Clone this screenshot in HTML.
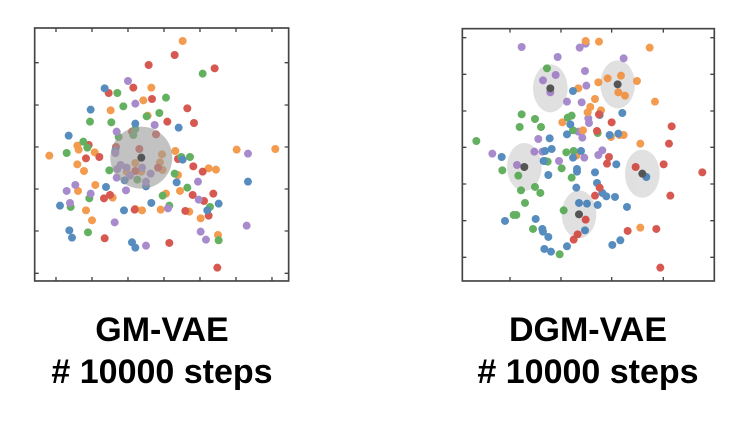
<!DOCTYPE html>
<html><head><style>
html,body{margin:0;padding:0;background:#fff;width:734px;height:422px;overflow:hidden}
.t{position:absolute;font-family:"Liberation Sans",sans-serif;font-weight:bold;font-size:34px;color:#000;text-align:center;width:340px;line-height:42px}
circle{}
</style></head><body>
<svg width="734" height="422" style="position:absolute;left:0;top:0">
<g transform="translate(30,25) scale(0.3333)">
<rect x="14" y="9" width="762" height="759" fill="none" stroke="#444" stroke-width="5"/>
<g stroke="#444" stroke-width="4">
<path d="M78 768v-12M186 768v-12M294 768v-12M402 768v-12M510 768v-12M618 768v-12M726 768v-12M78 9v12M186 9v12M294 9v12M402 9v12M510 9v12M618 9v12M726 9v12"/>
<path d="M14 113h12M14 240h12M14 366h12M14 492h12M14 618h12M14 745h12M776 113h-12M776 240h-12M776 366h-12M776 492h-12M776 618h-12M776 745h-12"/>
</g>
<g opacity="0.85">
<g fill="#f28a30">
<circle cx="458" cy="48" r="12"/><circle cx="364" cy="188" r="12"/><circle cx="340" cy="226" r="12"/><circle cx="242" cy="256" r="12"/><circle cx="353" cy="272" r="12"/><circle cx="142" cy="362" r="12"/><circle cx="146" cy="374" r="12"/><circle cx="194" cy="382" r="12"/><circle cx="142" cy="418" r="12"/><circle cx="162" cy="438" r="12"/><circle cx="58" cy="392" r="12"/><circle cx="436" cy="378" r="12"/><circle cx="396" cy="388" r="12"/><circle cx="390" cy="412" r="12"/><circle cx="398" cy="435" r="12"/><circle cx="316" cy="414" r="12"/><circle cx="334" cy="440" r="12"/><circle cx="444" cy="450" r="12"/><circle cx="196" cy="480" r="12"/><circle cx="144" cy="498" r="12"/><circle cx="248" cy="518" r="12"/><circle cx="168" cy="556" r="12"/><circle cx="186" cy="586" r="12"/><circle cx="316" cy="552" r="12"/><circle cx="336" cy="556" r="12"/><circle cx="392" cy="554" r="12"/><circle cx="408" cy="506" r="12"/><circle cx="450" cy="498" r="12"/><circle cx="478" cy="560" r="12"/><circle cx="512" cy="580" r="12"/><circle cx="536" cy="430" r="12"/><circle cx="558" cy="434" r="12"/><circle cx="620" cy="374" r="12"/><circle cx="736" cy="372" r="12"/><circle cx="564" cy="630" r="12"/><circle cx="290" cy="440" r="12"/>
</g>
<g fill="#d03b32">
<circle cx="434" cy="90" r="12"/><circle cx="356" cy="120" r="12"/><circle cx="554" cy="130" r="12"/><circle cx="310" cy="188" r="12"/><circle cx="236" cy="204" r="12"/><circle cx="366" cy="222" r="12"/><circle cx="472" cy="250" r="12"/><circle cx="412" cy="290" r="12"/><circle cx="492" cy="294" r="12"/><circle cx="378" cy="328" r="12"/><circle cx="306" cy="320" r="12"/><circle cx="258" cy="366" r="12"/><circle cx="176" cy="360" r="12"/><circle cx="168" cy="400" r="12"/><circle cx="208" cy="396" r="12"/><circle cx="328" cy="372" r="12"/><circle cx="444" cy="402" r="12"/><circle cx="384" cy="428" r="12"/><circle cx="316" cy="438" r="12"/><circle cx="490" cy="424" r="12"/><circle cx="518" cy="440" r="12"/><circle cx="488" cy="510" r="12"/><circle cx="522" cy="528" r="12"/><circle cx="550" cy="506" r="12"/><circle cx="536" cy="572" r="12"/><circle cx="466" cy="558" r="12"/><circle cx="314" cy="554" r="12"/><circle cx="222" cy="520" r="12"/><circle cx="240" cy="510" r="12"/><circle cx="224" cy="640" r="12"/><circle cx="418" cy="654" r="12"/><circle cx="562" cy="728" r="12"/>
</g>
<g fill="#4aa346">
<circle cx="518" cy="146" r="12"/><circle cx="262" cy="204" r="12"/><circle cx="408" cy="218" r="12"/><circle cx="280" cy="244" r="12"/><circle cx="350" cy="274" r="12"/><circle cx="388" cy="264" r="12"/><circle cx="180" cy="290" r="12"/><circle cx="244" cy="292" r="12"/><circle cx="316" cy="312" r="12"/><circle cx="266" cy="336" r="12"/><circle cx="310" cy="330" r="12"/><circle cx="160" cy="350" r="12"/><circle cx="110" cy="384" r="12"/><circle cx="172" cy="368" r="12"/><circle cx="238" cy="436" r="12"/><circle cx="322" cy="464" r="12"/><circle cx="434" cy="446" r="12"/><circle cx="454" cy="396" r="12"/><circle cx="480" cy="396" r="12"/><circle cx="472" cy="488" r="12"/><circle cx="398" cy="512" r="12"/><circle cx="418" cy="542" r="12"/><circle cx="540" cy="546" r="12"/><circle cx="566" cy="646" r="12"/><circle cx="178" cy="520" r="12"/><circle cx="122" cy="546" r="12"/><circle cx="174" cy="622" r="12"/>
</g>
<g fill="#3a78b4">
<circle cx="224" cy="190" r="12"/><circle cx="182" cy="254" r="12"/><circle cx="116" cy="332" r="12"/><circle cx="316" cy="296" r="12"/><circle cx="446" cy="308" r="12"/><circle cx="256" cy="378" r="12"/><circle cx="458" cy="404" r="12"/><circle cx="284" cy="466" r="12"/><circle cx="348" cy="484" r="12"/><circle cx="440" cy="472" r="12"/><circle cx="228" cy="486" r="12"/><circle cx="364" cy="534" r="12"/><circle cx="282" cy="556" r="12"/><circle cx="90" cy="542" r="12"/><circle cx="118" cy="616" r="12"/><circle cx="126" cy="638" r="12"/><circle cx="306" cy="652" r="12"/><circle cx="316" cy="668" r="12"/><circle cx="532" cy="556" r="12"/><circle cx="566" cy="536" r="12"/><circle cx="654" cy="470" r="12"/>
</g>
<g fill="#9a77c4">
<circle cx="294" cy="168" r="12"/><circle cx="316" cy="236" r="12"/><circle cx="374" cy="300" r="12"/><circle cx="260" cy="320" r="12"/><circle cx="256" cy="384" r="12"/><circle cx="272" cy="420" r="12"/><circle cx="290" cy="428" r="12"/><circle cx="262" cy="432" r="12"/><circle cx="260" cy="458" r="12"/><circle cx="300" cy="452" r="12"/><circle cx="336" cy="428" r="12"/><circle cx="362" cy="446" r="12"/><circle cx="348" cy="470" r="12"/><circle cx="288" cy="496" r="12"/><circle cx="136" cy="480" r="12"/><circle cx="110" cy="498" r="12"/><circle cx="182" cy="506" r="12"/><circle cx="120" cy="534" r="12"/><circle cx="254" cy="592" r="12"/><circle cx="348" cy="662" r="12"/><circle cx="504" cy="470" r="12"/><circle cx="506" cy="524" r="12"/><circle cx="414" cy="550" r="12"/><circle cx="512" cy="620" r="12"/><circle cx="528" cy="644" r="12"/><circle cx="654" cy="386" r="12"/><circle cx="650" cy="602" r="12"/>
</g>
</g>
<circle cx="334" cy="398" r="93" fill="#999" opacity="0.6"/>
<circle cx="334" cy="398" r="12" fill="#555"/>
</g>

<g transform="translate(455,25) scale(0.3333)">
<rect x="22" y="11" width="756" height="757" fill="none" stroke="#444" stroke-width="5"/>
<g stroke="#444" stroke-width="4">
<path d="M165 768v-12M318 768v-12M470 768v-12M625 768v-12M165 11v12M318 11v12M470 11v12M625 11v12"/>
<path d="M22 38h12M22 148h12M22 258h12M22 367h12M22 477h12M22 587h12M22 697h12M778 38h-12M778 148h-12M778 258h-12M778 367h-12M778 477h-12M778 587h-12M778 697h-12"/>
</g>
<g fill="#c8c8c8" opacity="0.55">
<ellipse cx="286" cy="190" rx="52" ry="72"/><ellipse cx="488" cy="178" rx="52" ry="72"/><ellipse cx="208" cy="426" rx="52" ry="72"/><ellipse cx="562" cy="446" rx="52" ry="72"/><ellipse cx="372" cy="568" rx="52" ry="72"/>
</g>
<g opacity="0.85">
<g fill="#9a77c4">
<circle cx="200" cy="66" r="12"/><circle cx="374" cy="68" r="12"/><circle cx="392" cy="56" r="12"/><circle cx="308" cy="96" r="12"/><circle cx="506" cy="100" r="12"/><circle cx="390" cy="138" r="12"/><circle cx="264" cy="166" r="12"/><circle cx="302" cy="150" r="12"/><circle cx="286" cy="202" r="12"/><circle cx="394" cy="182" r="12"/><circle cx="336" cy="230" r="12"/><circle cx="380" cy="232" r="12"/><circle cx="400" cy="280" r="12"/><circle cx="402" cy="294" r="12"/><circle cx="370" cy="320" r="12"/><circle cx="382" cy="338" r="12"/><circle cx="250" cy="342" r="12"/><circle cx="112" cy="386" r="12"/><circle cx="238" cy="380" r="12"/><circle cx="262" cy="380" r="12"/><circle cx="312" cy="408" r="12"/><circle cx="388" cy="398" r="12"/><circle cx="442" cy="376" r="12"/><circle cx="430" cy="390" r="12"/><circle cx="186" cy="420" r="12"/>
</g>
<g fill="#f28a30">
<circle cx="392" cy="48" r="12"/><circle cx="432" cy="50" r="12"/><circle cx="584" cy="68" r="12"/><circle cx="458" cy="160" r="12"/><circle cx="498" cy="152" r="12"/><circle cx="430" cy="172" r="12"/><circle cx="546" cy="168" r="12"/><circle cx="490" cy="202" r="12"/><circle cx="510" cy="212" r="12"/><circle cx="370" cy="190" r="12"/><circle cx="420" cy="222" r="12"/><circle cx="406" cy="246" r="12"/><circle cx="398" cy="262" r="12"/><circle cx="438" cy="256" r="12"/><circle cx="600" cy="230" r="12"/><circle cx="322" cy="292" r="12"/><circle cx="384" cy="316" r="12"/><circle cx="468" cy="336" r="12"/><circle cx="494" cy="330" r="12"/><circle cx="506" cy="330" r="12"/><circle cx="556" cy="356" r="12"/><circle cx="364" cy="392" r="12"/><circle cx="556" cy="608" r="12"/>
</g>
<g fill="#4aa346">
<circle cx="276" cy="130" r="12"/><circle cx="200" cy="268" r="12"/><circle cx="240" cy="282" r="12"/><circle cx="194" cy="306" r="12"/><circle cx="258" cy="306" r="12"/><circle cx="338" cy="278" r="12"/><circle cx="350" cy="272" r="12"/><circle cx="354" cy="316" r="12"/><circle cx="428" cy="324" r="12"/><circle cx="64" cy="348" r="12"/><circle cx="270" cy="408" r="12"/><circle cx="278" cy="410" r="12"/><circle cx="334" cy="382" r="12"/><circle cx="356" cy="378" r="12"/><circle cx="320" cy="430" r="12"/><circle cx="142" cy="436" r="12"/><circle cx="190" cy="452" r="12"/><circle cx="350" cy="458" r="12"/><circle cx="198" cy="496" r="12"/><circle cx="240" cy="486" r="12"/><circle cx="256" cy="504" r="12"/><circle cx="210" cy="534" r="12"/><circle cx="326" cy="556" r="12"/><circle cx="176" cy="570" r="12"/><circle cx="184" cy="570" r="12"/><circle cx="234" cy="612" r="12"/><circle cx="314" cy="688" r="12"/>
</g>
<g fill="#3a78b4">
<circle cx="354" cy="198" r="12"/><circle cx="502" cy="264" r="12"/><circle cx="434" cy="270" r="12"/><circle cx="346" cy="298" r="12"/><circle cx="336" cy="328" r="12"/><circle cx="284" cy="340" r="12"/><circle cx="290" cy="372" r="12"/><circle cx="270" cy="378" r="12"/><circle cx="378" cy="378" r="12"/><circle cx="354" cy="398" r="12"/><circle cx="266" cy="408" r="12"/><circle cx="140" cy="396" r="12"/><circle cx="280" cy="450" r="12"/><circle cx="366" cy="432" r="12"/><circle cx="366" cy="440" r="12"/><circle cx="420" cy="442" r="12"/><circle cx="426" cy="474" r="12"/><circle cx="484" cy="418" r="12"/><circle cx="464" cy="330" r="12"/><circle cx="490" cy="326" r="12"/><circle cx="364" cy="488" r="12"/><circle cx="442" cy="504" r="12"/><circle cx="454" cy="514" r="12"/><circle cx="480" cy="516" r="12"/><circle cx="428" cy="540" r="12"/><circle cx="372" cy="534" r="12"/><circle cx="396" cy="536" r="12"/><circle cx="516" cy="546" r="12"/><circle cx="150" cy="588" r="12"/><circle cx="242" cy="582" r="12"/><circle cx="262" cy="612" r="12"/><circle cx="264" cy="620" r="12"/><circle cx="390" cy="616" r="12"/><circle cx="280" cy="636" r="12"/><circle cx="268" cy="672" r="12"/><circle cx="288" cy="680" r="12"/><circle cx="336" cy="664" r="12"/><circle cx="472" cy="660" r="12"/><circle cx="496" cy="646" r="12"/><circle cx="574" cy="456" r="12"/>
</g>
<g fill="#d03b32">
<circle cx="432" cy="268" r="12"/><circle cx="470" cy="292" r="12"/><circle cx="650" cy="304" r="12"/><circle cx="426" cy="318" r="12"/><circle cx="642" cy="356" r="12"/><circle cx="462" cy="396" r="12"/><circle cx="456" cy="416" r="12"/><circle cx="626" cy="418" r="12"/><circle cx="542" cy="426" r="12"/><circle cx="742" cy="442" r="12"/><circle cx="434" cy="488" r="12"/><circle cx="420" cy="512" r="12"/><circle cx="392" cy="584" r="12"/><circle cx="368" cy="628" r="12"/><circle cx="356" cy="644" r="12"/><circle cx="518" cy="618" r="12"/><circle cx="604" cy="612" r="12"/><circle cx="646" cy="512" r="12"/><circle cx="616" cy="728" r="12"/>
</g>
</g>
<g fill="#555">
<circle cx="286" cy="190" r="12"/><circle cx="488" cy="178" r="12"/><circle cx="208" cy="426" r="12"/><circle cx="562" cy="446" r="12"/><circle cx="372" cy="568" r="12"/>
</g>
</g>
</svg>
<div class="t" style="left:-8px;top:309px">GM-VAE<br># 10000 steps</div>
<div class="t" style="left:418px;top:309px">DGM-VAE<br># 10000 steps</div>
</body></html>
